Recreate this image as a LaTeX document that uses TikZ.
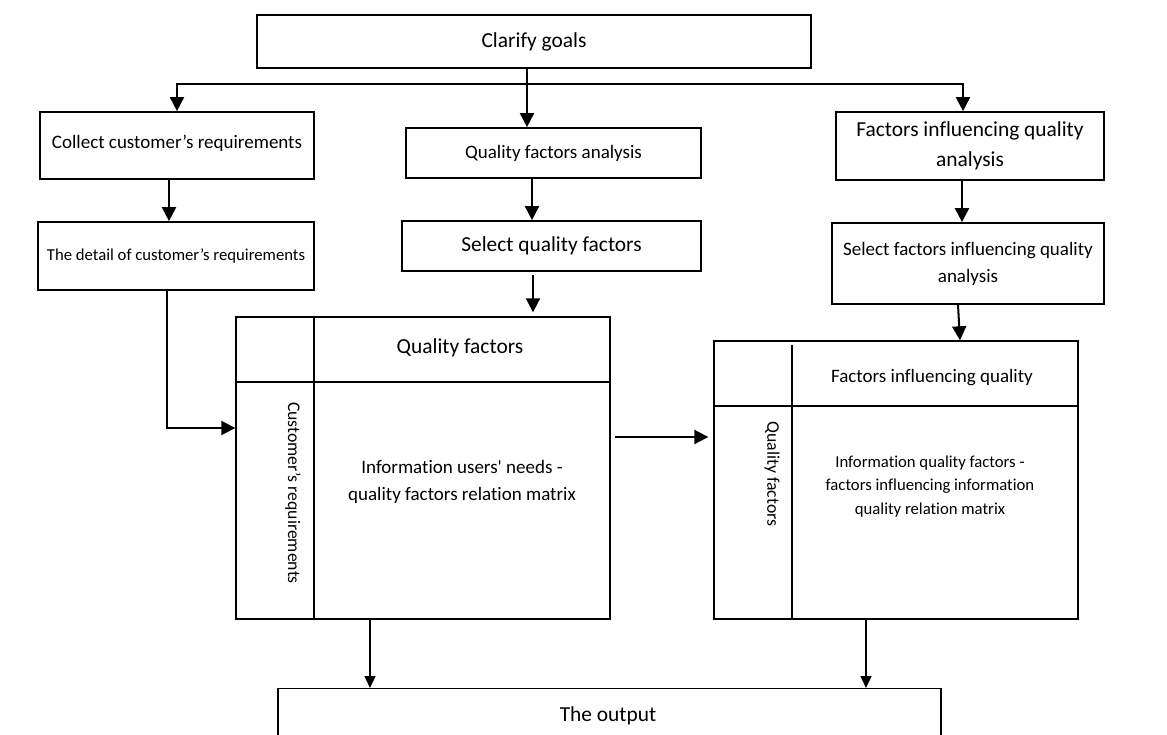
\documentclass[tikz,border=0pt]{standalone}
\usepackage{fontspec}
\setmainfont{Carlito}[Ligatures={TeXOff,CommonOff}]
\usetikzlibrary{arrows.meta}
\begin{document}
\begin{tikzpicture}[x=1pt,y=-1pt,
  box/.style={draw, line width=1.7pt, inner sep=0pt, align=center},
  mat/.style={draw, line width=1.4pt, inner sep=0pt},
  mline/.style={line width=1.4pt},
  arr/.style={line width=2pt, -{Triangle[length=14pt,width=14pt]}},
  arrs/.style={line width=1.5pt, -{Triangle[length=12pt,width=11pt]}},
  txt/.style={inner sep=0pt, align=center},
  fA/.style={font=\fontsize{21.4}{30}\selectfont},
  fB/.style={font=\fontsize{19}{26.6}\selectfont},
  fC/.style={font=\fontsize{16.7}{23.5}\selectfont},
  fD/.style={font=\fontsize{17.7}{24}\selectfont}]
\path[use as bounding box] (0,0) rectangle (1167,735);
\clip (0,0) rectangle (1167,735);
\fill[white] (0,0) rectangle (1167,735);

% boxes
\node[box, fA, minimum width=554pt, minimum height=53pt] (goal) at (534,41.5) {Clarify goals};
\node[box, fB, minimum width=274pt, minimum height=67pt] (col) at (177,145.5) {\raisebox{7pt}{Collect customer’s requirements}};
\node[box, fC, minimum width=276pt, minimum height=68pt] (det) at (176,256) {The detail of customer’s requirements};
\node[box, fB, minimum width=295pt, minimum height=50pt] (qfa) at (553.5,153) {Quality factors analysis};
\node[box, fA, minimum width=299pt, minimum height=50pt] (sqf) at (551.5,246) {Select quality factors};
\node[box, fA, minimum width=268pt, minimum height=68pt] (fiqa) at (970,146) {\raisebox{-5pt}{\begin{tabular}{@{}c@{}}Factors influencing quality\\analysis\end{tabular}}};
\node[box, fB, minimum width=272pt, minimum height=81pt] (sfiqa) at (968,263.5) {\raisebox{3pt}{\begin{tabular}{@{}c@{}}Select factors influencing quality\\analysis\end{tabular}}};

% matrix 1
\node[mat, minimum width=374pt, minimum height=302pt] (m1) at (423,468) {};
\draw[mline] (314,317) -- (314,619);
\draw[mline] (236,382) -- (610,382);
\node[txt, fA] (m1h) at (460,348) {Quality factors};
\node[txt, fB] (m1b) at (462,482) {Information users' needs -\\quality factors relation matrix};
\node[txt, fD, rotate=-90] (m1s) at (293,493) {Customer’s requirements};

% matrix 2
\node[mat, minimum width=364pt, minimum height=278pt] (m2) at (896,480) {};
\draw[mline] (792,345) -- (792,619);
\draw[mline] (714,406) -- (1078,406);
\node[txt, fB] (m2h) at (932,378) {Factors influencing quality};
\node[txt, fC] (m2b) at (930,486.5) {Information quality factors -\\factors influencing information\\quality relation matrix};
\node[txt, fD, rotate=-90] (m2s) at (772,474) {Quality factors};

% output
\node[box, line width=1.4pt, minimum width=663pt, minimum height=110pt, anchor=north] (out) at (609.5,688) {};
\node[txt, fA] (outt) at (608,716) {The output};

% connector coordinates
\coordinate (split) at (527,84);
\coordinate (xR) at (963,0);
\coordinate (xc) at (169,0);
\coordinate (xd) at (167,0);
\coordinate (yd) at (0,428);
\coordinate (xq) at (532,0);
\coordinate (xs) at (533,0);
\coordinate (xf) at (962,0);
\coordinate (xa) at (958,0);
\coordinate (xb) at (960,0);
\coordinate (ym) at (0,437);
\coordinate (xo1) at (370,0);
\coordinate (xo2) at (866,0);

% connectors
\draw[arr] (goal.south -| split) -- (qfa.north -| split);
\draw[arr] (split) -| (col.north);
\draw[arr] (split) -| (fiqa.north -| xR);
\draw[arr] (col.south -| xc) -- (det.north -| xc);
\draw[arr] (det.south -| xd) |- (m1.west |- yd);
\draw[arr] (qfa.south -| xq) -- (sqf.north -| xq);
\draw[arr, shorten <=3pt, shorten >=4pt] (sqf.south -| xs) -- (m1.north -| xs);
\draw[arr] (fiqa.south -| xf) -- (sfiqa.north -| xf);
\draw[arr] (sfiqa.south -| xa) -- (m2.north -| xb);
\draw[arr, shorten <=4pt, shorten >=5pt] (m1.east |- ym) -- (m2.west |- ym);
\draw[arrs] (m1.south -| xo1) -- (out.north -| xo1);
\draw[arrs] (m2.south -| xo2) -- (out.north -| xo2);
\end{tikzpicture}
\end{document}
